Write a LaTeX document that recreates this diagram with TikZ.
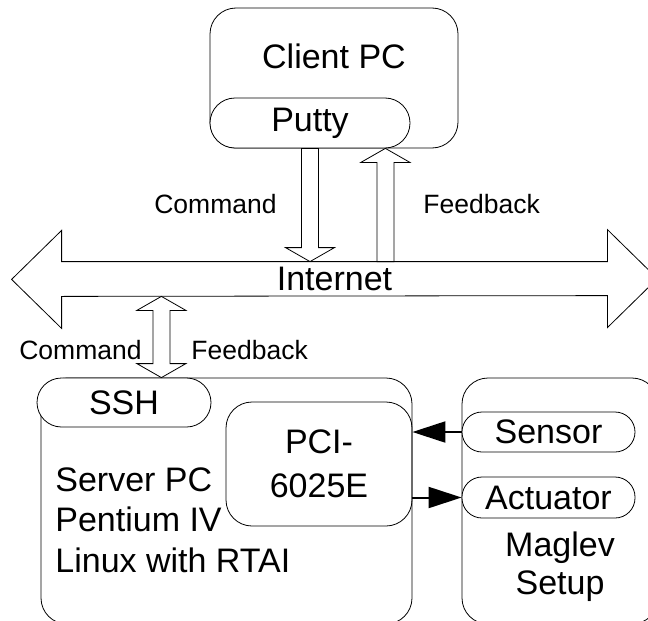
\documentclass[tikz,border=0pt]{standalone}
\usepackage{fontspec}
\setmainfont{Liberation Sans}
\usetikzlibrary{calc,arrows.meta}

\tikzset{
  pcbox/.style={draw, rounded corners=26pt, inner sep=0pt},
  pill/.style={draw, fill=white, rounded corners=#1, inner sep=0pt},
  pill/.default=20pt,
  bigtext/.style={font=\fontsize{34}{40}\selectfont, inner sep=0pt},
  smalltext/.style={font=\fontsize{26.5}{30}\selectfont, inner sep=0pt},
  blockarrow/.style={to path={
    let \p1=(\tikztostart), \p2=(\tikztotarget),
        \p3=($(\tikztotarget)!14pt!(\tikztostart)$) in
    (\x1-8.5pt,\y1) -- (\x1-8.5pt,\y3) -- (\x1-24.5pt,\y3) -- (\x2,\y2)
    -- (\x1+24.5pt,\y3) -- (\x1+8.5pt,\y3) -- (\x1+8.5pt,\y1) -- cycle}},
  doubleblock/.style={to path={
    let \p1=(\tikztostart), \p2=(\tikztotarget),
        \p3=($(\tikztostart)!14pt!(\tikztotarget)$),
        \p4=($(\tikztotarget)!14pt!(\tikztostart)$) in
    (\x1,\y1) -- (\x1+24.5pt,\y3) -- (\x1+8.5pt,\y3) -- (\x1+8.5pt,\y4)
    -- (\x1+24.5pt,\y4) -- (\x2,\y2) -- (\x1-24.5pt,\y4) -- (\x1-8.5pt,\y4)
    -- (\x1-8.5pt,\y3) -- (\x1-24.5pt,\y3) -- cycle}}
}

\begin{document}
\begin{tikzpicture}[x=1pt,y=-1pt,line width=0.8pt,>={Triangle[length=33pt,width=21pt]}]
\useasboundingbox (0,0) rectangle (648,621);

\node[pcbox, minimum width=248pt, minimum height=140pt] (client) at (334,78) {};
\node[bigtext, anchor=base] (clientlbl) at (334,68) {Client PC};
\node[pill=25pt, bigtext, minimum width=200pt, minimum height=50pt] (putty) at (310,123) {Putty};

\node[bigtext, minimum width=545pt, minimum height=34pt] (internet) at (334.5,279) {Internet};
\draw (internet.north west) -- (internet.north east) -- ++(0,-32) -- ++(50,49) -- ++(-50,49)
  -- ++(0,-32) -- (internet.south west) -- ++(0,32) -- ++(-50,-49) -- ++(50,-49) -- cycle;

\node[pcbox, minimum width=371pt, minimum height=246pt] (server) at (226.5,501) {};
\node[pcbox, minimum width=186pt, minimum height=124pt, align=center,
  font=\fontsize{34}{44}\selectfont] (pci) at (319,464) {PCI-\\6025E};
\node[pill=24.5pt, bigtext, minimum width=174pt, minimum height=49pt] (ssh) at (124,402.5) {SSH};
\node[bigtext, align=left, anchor=north west, font=\fontsize{34}{40.5}\selectfont]
  (serverlbl) at (55,467) {Server PC\\Pentium IV\\Linux with RTAI};

\node[pcbox, minimum width=196pt, minimum height=246pt] (maglev) at (560,501) {};
\node[pill, bigtext, minimum width=173pt, minimum height=40pt] (sensor) at (548.5,432) {Sensor};
\node[pill, bigtext, minimum width=173pt, minimum height=41pt] (actuator) at (548.5,497.5) {Actuator};
\node[bigtext, align=center, anchor=north, font=\fontsize{34}{38}\selectfont]
  (maglevlbl) at (560,531) {Maglev\\Setup};

\coordinate (cmdin) at (putty.south |- internet.north);
\coordinate (fbout) at ([xshift=-25pt]putty.south east);
\coordinate (fbin) at (internet.north -| fbout);
\coordinate (sshin) at ([xshift=-50pt]ssh.north east);
\coordinate (sshout) at (internet.south -| sshin);

\draw (putty.south) edge[blockarrow] (cmdin);
\draw (fbin) edge[blockarrow] (fbout);
\draw (sshout) edge[doubleblock] (sshin);

\node[smalltext, anchor=base east] (cmdup) at (277,213) {Command};
\node[smalltext, anchor=base west] (fbup) at (423,213) {Feedback};
\node[smalltext, anchor=base east] (cmddown) at (142,359) {Command};
\node[smalltext, anchor=base west] (fbdown) at (191,359) {Feedback};

\path[->,line width=2pt] (sensor.west) edge (sensor.west -| pci.east);
\path[->,line width=2pt] (pci.east |- actuator.west) edge (actuator.west);
\end{tikzpicture}
\end{document}
